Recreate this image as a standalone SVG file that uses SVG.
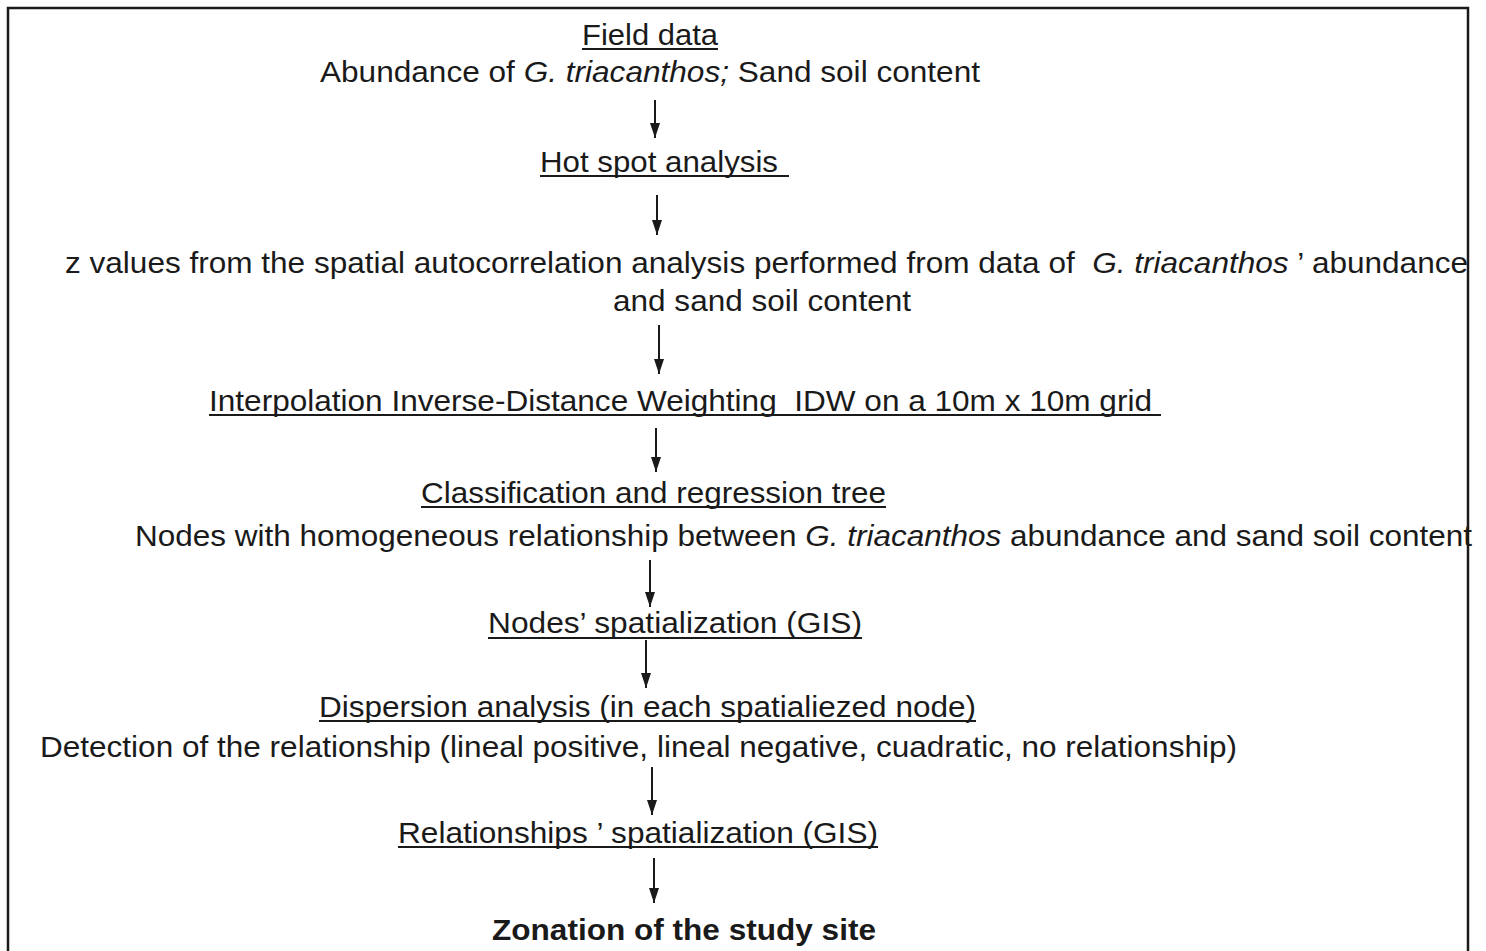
<svg xmlns="http://www.w3.org/2000/svg" width="1486" height="951" viewBox="0 0 1486 951">
<style>
text{font-family:"Liberation Sans",Arial,sans-serif;font-size:29px;fill:#1a1a1a;white-space:pre}
.b{font-weight:bold}
.i{font-style:italic}
.u{stroke:#1a1a1a;stroke-width:2}
.c{stroke:#1a1a1a;stroke-width:2;fill:none;marker-end:url(#ah)}
</style>
<defs>
<marker id="ah" viewBox="0 0 15 10" refX="15" refY="5" markerWidth="15" markerHeight="10" markerUnits="userSpaceOnUse" orient="auto">
<path d="M0,0 L15,5 L0,10 Z" fill="#1a1a1a"/>
</marker>
</defs>
<rect x="0" y="0" width="1486" height="951" fill="#fff"/>
<rect x="8" y="8" width="1460" height="980" fill="none" stroke="#1a1a1a" stroke-width="2.5"/>
<g id="n1"><text x="582" y="45" textLength="136" lengthAdjust="spacingAndGlyphs">Field data</text><line class="u" x1="582" y1="49" x2="718" y2="49"/>
<text x="320" y="82" textLength="660" lengthAdjust="spacingAndGlyphs">Abundance of <tspan class="i">G. triacanthos;</tspan> Sand soil content</text></g>
<g id="n2"><text x="540" y="172" textLength="238" lengthAdjust="spacingAndGlyphs">Hot spot analysis</text><line class="u" x1="540" y1="176" x2="789" y2="176"/></g>
<g id="n3"><text x="65" y="273" textLength="1403" lengthAdjust="spacingAndGlyphs">z values from the spatial autocorrelation analysis performed from data of  <tspan class="i">G. triacanthos</tspan> ’ abundance</text>
<text x="613" y="311" textLength="298" lengthAdjust="spacingAndGlyphs">and sand soil content</text></g>
<g id="n4"><text x="209" y="411" textLength="943" lengthAdjust="spacingAndGlyphs">Interpolation Inverse-Distance Weighting  IDW on a 10m x 10m grid</text><line class="u" x1="209" y1="415" x2="1161" y2="415"/></g>
<g id="n5"><text x="421" y="503" textLength="465" lengthAdjust="spacingAndGlyphs">Classification and regression tree</text><line class="u" x1="421" y1="507" x2="886" y2="507"/>
<text x="135" y="546" textLength="1337" lengthAdjust="spacingAndGlyphs">Nodes with homogeneous relationship between <tspan class="i">G. triacanthos</tspan> abundance and sand soil content</text></g>
<g id="n6"><text x="488" y="633" textLength="374" lengthAdjust="spacingAndGlyphs">Nodes’ spatialization (GIS)</text><line class="u" x1="488" y1="638" x2="862" y2="638"/></g>
<g id="n7"><text x="319" y="717" textLength="657" lengthAdjust="spacingAndGlyphs">Dispersion analysis (in each spatialiezed node)</text><line class="u" x1="319" y1="721" x2="976" y2="721"/>
<text x="40" y="757" textLength="1197" lengthAdjust="spacingAndGlyphs">Detection of the relationship (lineal positive, lineal negative, cuadratic, no relationship)</text></g>
<g id="n8"><text x="398" y="843" textLength="480" lengthAdjust="spacingAndGlyphs">Relationships ’ spatialization (GIS)</text><line class="u" x1="398" y1="847" x2="878" y2="847"/></g>
<g id="n9"><text class="b" x="492" y="940" textLength="384" lengthAdjust="spacingAndGlyphs">Zonation of the study site</text></g>
<g id="connectors">
<path class="c" d="M655,100 V138"/>
<path class="c" d="M657,195 V235"/>
<path class="c" d="M659,325 V374"/>
<path class="c" d="M656,428 V472"/>
<path class="c" d="M650,560 V607"/>
<path class="c" d="M646,640 V688"/>
<path class="c" d="M652,767 V815"/>
<path class="c" d="M654,858 V903"/>
</g>
</svg>
